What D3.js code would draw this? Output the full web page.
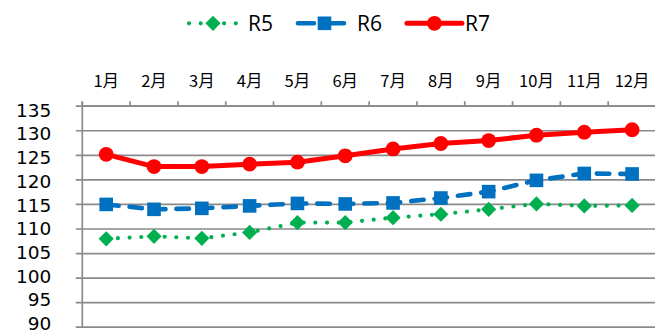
<!DOCTYPE html>
<html>
<head>
<meta charset="utf-8">
<script src="https://cdn.jsdelivr.net/npm/d3@7"></script>
<style>
  html, body { margin: 0; padding: 0; background: #fff; }
  svg { display: block; }
</style>
</head>
<body>
<script>
// Monthly values for three years (R5, R6, R7)
const months = ["1月","2月","3月","4月","5月","6月","7月","8月","9月","10月","11月","12月"];
const seriesNames = ["R5", "R6", "R7"];
const r5 = [107.9, 108.4, 108.0, 109.2, 111.2, 111.2, 112.2, 112.9, 113.9, 115.0, 114.6, 114.7];
const r6 = [114.9, 113.9, 114.1, 114.6, 115.1, 115.0, 115.2, 116.2, 117.5, 119.8, 121.2, 121.1];
const r7 = [125.1, 122.6, 122.6, 123.1, 123.5, 124.8, 126.2, 127.3, 127.9, 129.0, 129.6, 130.1];
const yTicks = [90, 95, 100, 105, 110, 115, 120, 125, 130, 135];

const W = 655, H = 336;
const plot = { left: 82.3, right: 656, top: 105.7, bottom: 326.7 };
const gridColor = "#8a8a8a";

const svg = d3.select("body").append("svg").attr("width", W).attr("height", H);

const x = d3.scaleBand().domain(months).range([plot.left, plot.right]).padding(0);
const y = d3.scaleLinear().domain([90, 135]).range([plot.bottom, plot.top]);
// value labels sit in a slightly tighter column than the gridlines
const yLabel = d3.scaleLinear().domain([90, 135]).range([323, 109.5]);
const cx = m => x(m) + x.bandwidth() / 2;

// Horizontal gridlines with outward tick marks on the left
const yAxis = d3.axisLeft(y).tickValues(yTicks).tickSize(6.5).tickFormat(d => d);
const yg = svg.append("g").attr("transform", `translate(${plot.left},0)`).call(yAxis);
yg.select(".domain").remove();
yg.selectAll(".tick line").remove();
yg.selectAll(".tick").append("line")
  .attr("x1", -6.5).attr("x2", plot.right - plot.left)
  .attr("stroke", gridColor).attr("stroke-width", 1.7);
yg.selectAll(".tick text")
  .attr("x", -31)
  .attr("y", d => yLabel(d) - y(d))
  .attr("dy", "0.36em")
  .attr("fill", "#000")
  .style("font-family", "'DejaVu Sans', sans-serif")
  .style("font-size", "18.5px")
  .attr("text-anchor", "end");

// Vertical value axis line
svg.append("line")
  .attr("x1", plot.left).attr("x2", plot.left)
  .attr("y1", plot.top - 4).attr("y2", plot.bottom)
  .attr("stroke", gridColor).attr("stroke-width", 1.7);

// Category axis along the top
const xAxis = d3.axisTop(x).tickSize(0).tickPadding(0);
const xg = svg.append("g").attr("transform", `translate(0,${plot.top})`).call(xAxis);
xg.select(".domain").attr("stroke", gridColor).attr("stroke-width", 1.7);
xg.selectAll(".tick text")
  .attr("y", -18.5)
  .attr("fill", "#000")
  .style("font-family", "'Noto Sans CJK JP', 'Open Sans', sans-serif")
  .style("font-size", "16.5px");
// boundary tick marks between categories
svg.append("g").selectAll("line")
  .data(months)
  .join("line")
  .attr("x1", d => x(d)).attr("x2", d => x(d))
  .attr("y1", plot.top - 4.5).attr("y2", plot.top)
  .attr("stroke", gridColor).attr("stroke-width", 1.7);

// Series definitions
const series = [
  { name: seriesNames[0], values: r5, color: "#00B050", width: 4.2, dash: "0 11.7", marker: "diamond",
    legendDash: "0 11.7", sample: 49, textGap: 11 },
  { name: seriesNames[1], values: r6, color: "#0070C0", width: 4.6, dash: "12.5 11", marker: "square",
    legendDash: "16 14", sample: 54, textGap: 6 },
  { name: seriesNames[2], values: r7, color: "#FF0000", width: 5, dash: null, marker: "circle",
    legendDash: null, sample: 56, textGap: 3 }
];

function drawMarker(g, type, color) {
  if (type === "diamond") {
    g.append("path").attr("d", "M0,-7.6L7.6,0L0,7.6L-7.6,0Z").attr("fill", color);
  } else if (type === "square") {
    g.append("rect").attr("x", -6.8).attr("y", -6.8).attr("width", 13.6).attr("height", 13.6).attr("fill", color);
  } else {
    g.append("circle").attr("r", 7.4).attr("fill", color);
  }
}

const line = d3.line().x(d => cx(d.m)).y(d => y(d.v));

series.forEach(s => {
  const pts = months.map((m, i) => ({ m, v: s.values[i] }));
  svg.append("path")
    .datum(pts)
    .attr("d", line)
    .attr("fill", "none")
    .attr("stroke", s.color)
    .attr("stroke-width", s.width)
    .attr("stroke-linecap", "round")
    .attr("stroke-linejoin", "round")
    .attr("stroke-dasharray", s.dash);
  svg.append("g").selectAll("g")
    .data(pts)
    .join("g")
    .attr("transform", d => `translate(${cx(d.m)},${y(d.v)})`)
    .each(function () { drawMarker(d3.select(this), s.marker, s.color); });
});

// Legend
const legend = svg.append("g");
let lx = 188;
const ly = 23.3;
series.forEach(s => {
  const g = legend.append("g").attr("transform", `translate(${lx},${ly})`);
  g.append("line")
    .attr("x1", 1).attr("x2", s.sample)
    .attr("stroke", s.color)
    .attr("stroke-width", s.width)
    .attr("stroke-linecap", "round")
    .attr("stroke-dasharray", s.legendDash);
  const mg = g.append("g").attr("transform", `translate(${s.sample / 2 + 0.5},0)`);
  drawMarker(mg, s.marker, s.color);
  const t = g.append("text")
    .attr("x", s.sample + s.textGap)
    .attr("dy", "0.36em")
    .attr("fill", "#000")
    .style("font-family", "'Open Sans', 'DejaVu Sans', sans-serif")
    .style("font-size", "21px")
    .text(s.name);
  lx += s.sample + s.textGap + t.node().getComputedTextLength() + 24;
});
</script>
</body>
</html>
